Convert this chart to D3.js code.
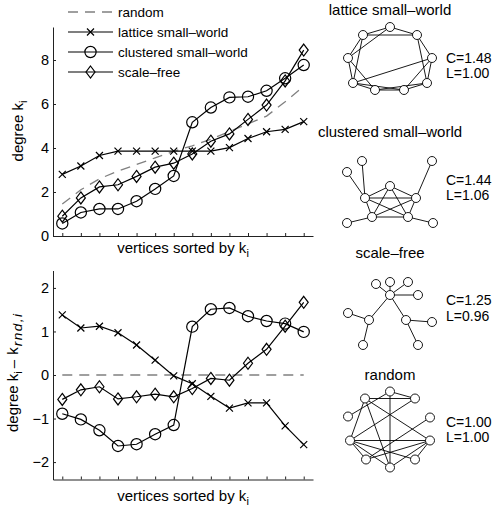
<!DOCTYPE html>
<html><head><meta charset="utf-8">
<script src="https://cdn.jsdelivr.net/npm/d3@7"></script>
<style>
body{margin:0;background:#fff}
text{font-family:"Liberation Sans",Arial,Helvetica,sans-serif;fill:#000}
</style>
</head><body><svg id="chart" width="494" height="511"></svg>
<script>
// ---------- data ----------
const vertexIndex = d3.range(1, 15);
const seriesNames = ["random", "lattice small–world", "clustered small–world", "scale–free"];
const degreeRandom    = [1.45, 2.10, 2.60, 2.95, 3.25, 3.55, 3.85, 4.10, 4.40, 4.75, 5.10, 5.45, 6.10, 6.80];
const degreeLattice   = [2.80, 3.18, 3.66, 3.86, 3.86, 3.86, 3.86, 3.86, 3.86, 4.02, 4.43, 4.74, 4.85, 5.20];
const degreeClustered = [0.57, 1.07, 1.23, 1.23, 1.58, 2.14, 2.73, 5.17, 5.84, 6.30, 6.33, 6.60, 7.17, 7.77];
const degreeScaleFree = [0.90, 1.73, 2.23, 2.33, 2.71, 3.13, 3.31, 3.73, 4.31, 4.64, 5.30, 5.95, 7.05, 8.45];
const diffLattice   = [1.38, 1.08, 1.12, 0.97, 0.69, 0.34, -0.02, -0.20, -0.49, -0.76, -0.64, -0.64, -1.17, -1.60];
const diffClustered = [-0.89, -1.02, -1.27, -1.63, -1.59, -1.36, -1.15, 1.11, 1.51, 1.54, 1.35, 1.24, 1.18, 0.99];
const diffScaleFree = [-0.56, -0.34, -0.27, -0.55, -0.50, -0.44, -0.50, -0.31, -0.08, -0.12, 0.27, 0.59, 1.12, 1.67];
const diffRandom    = [0, 0];
const topTicks = [0, 2, 4, 6, 8];
const bottomTicks = [-2, -1, 0, 1, 2];

// network panels: node layout (relative units) and edges
const latticeNodes = [[0,-31],[-27,-23],[27,-23],[-42,0],[42,0],[-37,25],[37,25],[-15,32],[14,32]];
const latticeEdges = [[0,1],[0,2],[1,2],[0,3],[1,3],[1,5],[3,5],[3,7],[5,7],[5,8],[7,8],[7,6],[8,6],[8,4],[6,4],[6,2],[4,2],[4,5]];
const clusteredNodes = [[-28,-31],[42,-31],[-43,-20],[0,-6],[-25,6],[26,6],[-18,25],[18,25],[-43,31],[43,31]];
const clusteredEdges = [[3,4],[3,5],[3,6],[3,7],[4,5],[4,6],[4,7],[5,6],[5,7],[6,7],[0,4],[2,4],[1,5],[8,6],[9,7]];
const scaleFreeNodes = [[0,-18],[-14,-29],[0,-31],[18,-31],[28,-18],[-21,7],[16,7],[-42,0],[42,9],[-27,32],[28,32]];
const scaleFreeEdges = [[0,1],[0,2],[0,3],[0,4],[0,5],[0,6],[5,7],[5,9],[6,8],[6,10]];
const randomNodes = [[0,-38],[-25,-31],[25,-31],[-42,-13],[40,-12],[-40,11],[40,11],[-24,30],[25,30],[0,38]];
const randomEdges = [[0,2],[1,2],[0,9],[0,3],[1,5],[1,6],[2,5],[1,9],[4,7],[5,7],[5,8],[5,6],[5,9],[6,7],[6,8],[6,9]];
const netTitles = ["lattice small–world", "clustered small–world", "scale–free", "random"];
const netC = ["1.48", "1.44", "1.25", "1.00"];
const netL = ["1.00", "1.06", "0.96", "1.00"];

// ---------- drawing ----------
const svg = d3.select("#chart");
const x = d3.scaleLinear().domain([0.5, 14.5]).range([53, 313]);
const yTop = d3.scaleLinear().domain([0, 9.5]).range([236, 27]);
const yBot = d3.scaleLinear().domain([-2.4, 2.4]).range([479.5, 270.5]);

function drawAxes(y, ticks) {
  const gy = svg.append("g").attr("transform", `translate(${x.range()[0]},0)`)
    .call(d3.axisLeft(y).tickValues(ticks).tickFormat(d3.format("d")).tickSizeInner(-3).tickSizeOuter(0).tickPadding(4));
  const gx = svg.append("g").attr("transform", `translate(0,${y.range()[0]})`)
    .call(d3.axisBottom(x).tickValues(vertexIndex).tickFormat("").tickSizeInner(-3).tickSizeOuter(0));
  [gx, gy].forEach(g => {
    g.selectAll("path,line").attr("stroke", "#222").attr("stroke-width", 1);
    g.selectAll("text").style("font-size", "14.5px").attr("fill", "#000");
  });
}

function marker(g, type, cx, cy) {
  if (type === "x") {
    const s = 3.5;
    g.append("path").attr("d", `M${cx-s},${cy-s}L${cx+s},${cy+s}M${cx-s},${cy+s}L${cx+s},${cy-s}`)
      .attr("stroke", "#000").attr("stroke-width", 1.2).attr("fill", "none");
  } else if (type === "o") {
    g.append("circle").attr("cx", cx).attr("cy", cy).attr("r", 5.6)
      .attr("stroke", "#000").attr("stroke-width", 1.2).attr("fill", "none");
  } else if (type === "d") {
    g.append("path").attr("d", `M${cx},${cy-6}L${cx+4.5},${cy}L${cx},${cy+6}L${cx-4.5},${cy}Z`)
      .attr("stroke", "#000").attr("stroke-width", 1.2).attr("fill", "none");
  }
}

function drawSeries(y, values, type) {
  const g = svg.append("g");
  const line = d3.line().x((d, i) => x(vertexIndex[i])).y(d => y(d));
  g.append("path").datum(values).attr("d", line)
    .attr("fill", "none").attr("stroke", "#000").attr("stroke-width", 1.2);
  values.forEach((v, i) => marker(g, type, x(vertexIndex[i]), y(v)));
}

function drawDashed(pathData) {
  svg.append("path").attr("d", pathData).attr("fill", "none")
    .attr("stroke", "#808080").attr("stroke-width", 1.3).attr("stroke-dasharray", "10,7");
}

// top chart
drawAxes(yTop, topTicks);
drawDashed(d3.line().x((d, i) => x(vertexIndex[i])).y(d => yTop(d))(degreeRandom));
drawSeries(yTop, degreeLattice, "x");
drawSeries(yTop, degreeClustered, "o");
drawSeries(yTop, degreeScaleFree, "d");

// bottom chart
drawAxes(yBot, bottomTicks);
drawDashed(d3.line().x(d => x(d)).y(() => yBot(diffRandom[0]))([vertexIndex[0], vertexIndex[13]]));
drawSeries(yBot, diffLattice, "x");
drawSeries(yBot, diffClustered, "o");
drawSeries(yBot, diffScaleFree, "d");

// legend
const legTypes = [null, "x", "o", "d"];
seriesNames.forEach((name, i) => {
  const yy = 12 + i * 20;
  const g = svg.append("g");
  if (i === 0) {
    g.append("line").attr("x1", 68).attr("x2", 113).attr("y1", yy).attr("y2", yy)
      .attr("stroke", "#808080").attr("stroke-width", 1.3).attr("stroke-dasharray", "10,7");
  } else {
    g.append("line").attr("x1", 68).attr("x2", 113).attr("y1", yy).attr("y2", yy)
      .attr("stroke", "#000").attr("stroke-width", 1.2);
    marker(g, legTypes[i], 90.5, yy);
  }
  g.append("text").attr("x", 118).attr("y", yy + 5).style("font-size", "13.5px").text(name);
});

// axis labels
function xLabel(yy) {
  const t = svg.append("text").attr("x", 183).attr("y", yy).attr("text-anchor", "middle").style("font-size", "15px");
  t.append("tspan").text("vertices sorted by k");
  t.append("tspan").attr("dy", 4).style("font-size", "11px").text("i");
}
xLabel(253);
xLabel(501);

const yl1 = svg.append("text").attr("transform", "translate(22.5,131) rotate(-90)").attr("text-anchor", "middle").style("font-size", "15px");
yl1.append("tspan").text("degree k");
yl1.append("tspan").attr("dy", 4).style("font-size", "11px").text("i");

const yl2 = svg.append("text").attr("transform", "translate(17.5,432) rotate(-90)").attr("text-anchor", "start").style("font-size", "15px");
yl2.append("tspan").text("degree k");
yl2.append("tspan").attr("dy", 4).style("font-size", "11px").text("i");
yl2.append("tspan").attr("dy", -4).attr("dx", 3).text("–");
yl2.append("tspan").attr("dx", 5).text("k");
yl2.append("tspan").attr("dy", 4).attr("dx", 1).style("font-size", "13.5px").style("font-style", "italic").style("letter-spacing", "1.5px").text("rnd,i");

// networks
const nets = [
  {nodes: latticeNodes, edges: latticeEdges, cx: 390, cy: 58, ty: 15, cy1: 63, cy2: 78},
  {nodes: clusteredNodes, edges: clusteredEdges, cx: 390, cy: 192, ty: 137, cy1: 185, cy2: 200},
  {nodes: scaleFreeNodes, edges: scaleFreeEdges, cx: 390, cy: 313, ty: 258, cy1: 305, cy2: 321},
  {nodes: randomNodes, edges: randomEdges, cx: 390, cy: 429.5, ty: 380, cy1: 427, cy2: 442}
];
nets.forEach((n, k) => {
  const sx = d3.scaleLinear().domain([-50, 50]).range([n.cx - 50, n.cx + 50]);
  const sy = d3.scaleLinear().domain([-50, 50]).range([n.cy - 50, n.cy + 50]);
  const g = svg.append("g");
  g.selectAll("line.e").data(n.edges).join("line")
    .attr("x1", d => sx(n.nodes[d[0]][0])).attr("y1", d => sy(n.nodes[d[0]][1]))
    .attr("x2", d => sx(n.nodes[d[1]][0])).attr("y2", d => sy(n.nodes[d[1]][1]))
    .attr("stroke", "#000").attr("stroke-width", 0.9);
  g.selectAll("circle").data(n.nodes).join("circle")
    .attr("cx", d => sx(d[0])).attr("cy", d => sy(d[1])).attr("r", 4.5)
    .attr("fill", "#fff").attr("stroke", "#000").attr("stroke-width", 0.9);
  svg.append("text").attr("x", n.cx).attr("y", n.ty).attr("text-anchor", "middle")
    .style("font-size", "15px").text(netTitles[k]);
  svg.append("text").attr("x", 446).attr("y", n.cy1).style("font-size", "14px").text("C=" + netC[k]);
  svg.append("text").attr("x", 446).attr("y", n.cy2).style("font-size", "14px").text("L=" + netL[k]);
});
</script>
</body></html>
